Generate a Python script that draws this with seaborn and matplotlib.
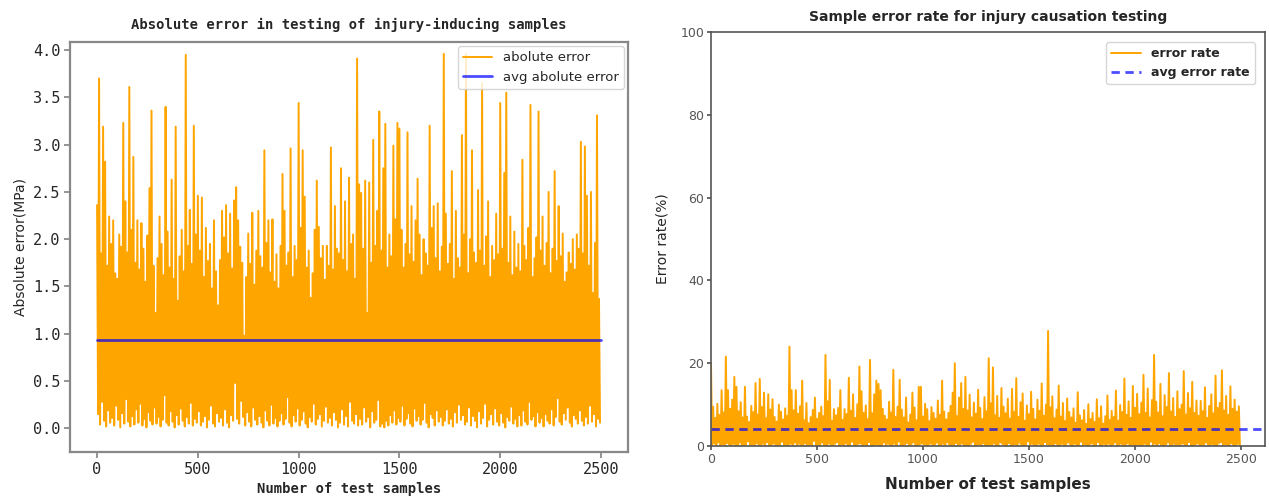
import numpy as np
import pandas as pd
import seaborn as sns
import matplotlib.pyplot as plt

# left panel: absolute error (MPa), one peak and one trough per 10 samples
abs_err_high = [
    2.36, 3.70, 1.85, 3.19, 2.82, 1.72, 2.24, 1.95, 2.20, 1.64,
    1.58, 2.05, 1.92, 3.23, 2.40, 1.86, 3.61, 2.10, 2.87, 1.75,
    2.20, 1.68, 2.17, 1.90, 1.55, 2.04, 2.54, 3.36, 1.72, 1.22,
    1.80, 2.24, 1.95, 1.62, 3.40, 2.08, 1.70, 2.63, 1.58, 3.19,
    1.35, 1.82, 2.10, 1.66, 3.95, 1.93, 2.31, 1.74, 3.20, 2.05,
    2.46, 1.88, 2.44, 1.60, 2.12, 1.77, 1.95, 1.48, 2.20, 1.66,
    1.30, 1.78, 2.30, 2.02, 2.36, 1.85, 2.27, 1.69, 2.41, 2.55,
    2.20, 1.92, 1.75, 0.98, 1.60, 2.06, 1.74, 2.28, 1.52, 1.88,
    2.30, 1.82, 1.70, 2.94, 1.96, 2.20, 1.65, 2.21, 1.55, 1.84,
    1.48, 1.93, 2.69, 2.30, 1.72, 1.86, 2.96, 1.60, 1.93, 1.78,
    3.44, 2.12, 2.94, 2.45, 1.70, 1.88, 1.38, 1.64, 2.10, 2.62,
    2.13, 1.80, 1.93, 1.57, 1.93, 1.72, 2.97, 1.68, 2.35, 1.90,
    1.85, 2.75, 1.78, 2.40, 1.66, 2.65, 1.95, 2.05, 1.58, 3.91,
    2.58, 2.49, 1.90, 2.62, 1.22, 2.60, 1.75, 3.05, 1.93, 2.30,
    3.35, 1.88, 2.75, 3.22, 1.70, 2.05, 1.82, 2.99, 2.21, 3.23,
    3.17, 2.10, 1.70, 1.95, 3.13, 1.84, 2.35, 1.76, 2.20, 2.64,
    2.05, 1.62, 2.00, 1.85, 1.72, 3.20, 2.12, 2.35, 1.80, 2.38,
    1.66, 1.92, 3.96, 2.27, 1.74, 1.95, 2.72, 1.58, 2.30, 1.80,
    1.70, 3.10, 2.05, 3.96, 1.64, 2.00, 2.94, 1.86, 1.75, 2.52,
    1.88, 3.65, 1.72, 2.03, 2.40, 1.60, 1.93, 1.78, 2.27, 1.84,
    3.44, 1.90, 2.70, 3.55, 1.75, 2.24, 1.62, 2.08, 1.70, 1.95,
    1.66, 2.84, 1.93, 1.78, 2.12, 3.42, 1.60, 1.80, 2.02, 3.35,
    1.88, 2.24, 1.72, 1.96, 2.50, 1.64, 1.90, 2.72, 1.77, 2.35,
    1.82, 2.06, 1.55, 1.65, 1.86, 1.74, 2.00, 1.68, 2.05, 1.90,
    3.03, 1.85, 2.98, 2.46, 1.72, 2.50, 1.43, 1.96, 3.31, 1.37,
]
abs_err_low = [
    0.15, 0.04, 0.28, 0.08, 0.02, 0.19, 0.06, 0.11, 0.03, 0.24,
    0.09, 0.01, 0.16, 0.05, 0.31, 0.07, 0.02, 0.13, 0.04, 0.20,
    0.06, 0.26, 0.03, 0.10, 0.01, 0.17, 0.08, 0.04, 0.22, 0.05,
    0.12, 0.02, 0.09, 0.35, 0.06, 0.03, 0.18, 0.07, 0.01, 0.14,
    0.04, 0.21, 0.08, 0.02, 0.12, 0.05, 0.27, 0.03, 0.10, 0.06,
    0.18, 0.03, 0.07, 0.13, 0.01, 0.09, 0.24, 0.05, 0.02, 0.16,
    0.07, 0.11, 0.03, 0.20, 0.06, 0.01, 0.14, 0.08, 0.48, 0.10,
    0.05, 0.29, 0.12, 0.03, 0.17, 0.07, 0.02, 0.22, 0.09, 0.04,
    0.13, 0.06, 0.01, 0.19, 0.08, 0.03, 0.25, 0.05, 0.11, 0.02,
    0.08, 0.16, 0.04, 0.10, 0.33, 0.06, 0.02, 0.14, 0.07, 0.21,
    0.03, 0.09, 0.18, 0.05, 0.01, 0.12, 0.07, 0.26, 0.04, 0.10,
    0.15, 0.02, 0.08, 0.23, 0.06, 0.11, 0.03, 0.17, 0.09, 0.01,
    0.06, 0.20, 0.04, 0.13, 0.02, 0.28, 0.08, 0.05, 0.15, 0.03,
    0.10, 0.04, 0.22, 0.07, 0.12, 0.01, 0.18, 0.06, 0.09, 0.30,
    0.02, 0.05, 0.01, 0.08, 0.03, 0.14, 0.06, 0.19, 0.04, 0.11,
    0.07, 0.24, 0.03, 0.10, 0.16, 0.05, 0.02, 0.21, 0.08, 0.13,
    0.04, 0.09, 0.27, 0.06, 0.01, 0.15, 0.11, 0.03, 0.19, 0.07,
    0.12, 0.03, 0.08, 0.20, 0.05, 0.10, 0.02, 0.17, 0.06, 0.25,
    0.09, 0.14, 0.04, 0.07, 0.22, 0.03, 0.13, 0.08, 0.01, 0.18,
    0.05, 0.11, 0.26, 0.02, 0.09, 0.15, 0.04, 0.21, 0.07, 0.03,
    0.16, 0.06, 0.01, 0.12, 0.08, 0.23, 0.05, 0.10, 0.02, 0.14,
    0.03, 0.19, 0.07, 0.04, 0.28, 0.09, 0.13, 0.02, 0.17, 0.06,
    0.11, 0.02, 0.15, 0.08, 0.05, 0.20, 0.03, 0.12, 0.32, 0.07,
    0.04, 0.16, 0.09, 0.22, 0.06, 0.02, 0.14, 0.10, 0.05, 0.19,
    0.08, 0.03, 0.12, 0.05, 0.24, 0.07, 0.15, 0.02, 0.10, 0.06,
]
avg_abs_err = 0.93

# right panel: error rate (%)
rate_high = [
    20.0, 9.5, 6.8, 10.2, 7.5, 13.5, 8.1, 21.6, 13.5, 9.0,
    11.2, 16.7, 14.3, 8.4, 10.6, 6.9, 14.3, 7.1, 5.8, 9.7,
    8.2, 15.2, 7.6, 16.2, 9.4, 12.9, 6.7, 12.5, 8.8, 11.3,
    7.0, 5.9, 10.0, 8.3, 6.4, 9.1, 7.3, 24.0, 13.5, 8.6,
    13.5, 7.8, 9.6, 15.8, 6.2, 10.4, 5.5, 7.0, 8.7, 11.7,
    6.6, 8.0, 9.5, 7.2, 22.0, 10.8, 16.0, 6.1, 8.9, 7.4,
    9.2, 13.5, 6.3, 8.9, 7.7, 16.5, 8.5, 12.5, 6.8, 10.1,
    19.2, 13.2, 8.0, 9.8, 6.5, 20.8, 7.9, 12.5, 15.8, 15.0,
    13.5, 9.0, 7.3, 6.4, 10.7, 8.1, 18.4, 7.0, 9.5, 16.0,
    8.8, 6.9, 11.7, 5.7, 7.6, 12.9, 9.3, 6.2, 14.3, 14.3,
    7.1, 10.2, 8.9, 6.0, 9.4, 8.0, 6.6, 11.0, 7.5, 15.8,
    8.3, 6.4, 8.0, 9.7, 12.9, 20.0, 7.2, 11.7, 15.2, 9.0,
    16.7, 8.6, 12.4, 6.9, 10.5, 7.8, 13.6, 9.2, 6.5, 11.8,
    8.4, 21.2, 10.3, 19.0, 7.4, 12.1, 6.8, 14.0, 9.5, 7.9,
    11.4, 6.6, 13.8, 8.2, 16.4, 7.0, 10.6, 12.7, 6.1, 9.8,
    7.7, 13.1, 9.0, 6.4, 11.2, 8.5, 15.1, 7.3, 10.0, 27.8,
    9.3, 12.0, 6.7, 8.8, 14.6, 7.1, 10.4, 6.0, 11.5, 8.2,
    6.9, 9.1, 5.6, 13.0, 7.4, 6.2, 8.7, 5.3, 10.1, 6.5,
    8.0, 5.8, 11.3, 6.7, 9.6, 5.4, 7.2, 12.2, 6.3, 8.5,
    7.0, 13.4, 6.1, 9.9, 8.2, 16.3, 7.5, 10.8, 6.8, 14.5,
    9.2, 12.6, 7.7, 10.5, 17.2, 8.0, 13.9, 6.9, 11.1, 22.0,
    10.7, 8.1, 15.0, 7.2, 12.3, 9.4, 17.6, 8.3, 11.6, 7.0,
    13.2, 8.9, 10.0, 18.1, 7.6, 12.8, 9.1, 15.5, 8.0, 11.0,
    7.3, 10.9, 8.4, 14.2, 6.8, 9.7, 12.5, 7.9, 17.0, 9.2,
    10.4, 18.3, 8.6, 12.1, 7.5, 14.4, 9.0, 11.2, 8.3, 9.6,
]
rate_low = [
    0.0, 0.6, 0.2, 0.9, 0.1, 0.4, 0.0, 0.7, 0.3, 0.0,
    0.5, 0.1, 0.0, 0.8, 0.2, 0.0, 0.4, 1.1, 0.1, 0.3,
    0.0, 0.7, 0.2, 0.0, 0.5, 0.1, 0.9, 0.0, 0.3, 0.6,
    0.2, 0.0, 0.4, 1.0, 0.0, 0.3, 0.1, 0.6, 0.0, 0.8,
    0.1, 0.5, 0.0, 0.2, 0.7, 0.0, 0.4, 0.1, 1.2, 0.0,
    0.3, 0.0, 0.8, 0.1, 0.0, 0.6, 0.2, 0.0, 0.5, 0.9,
    0.0, 0.4, 0.1, 0.7, 0.0, 0.2, 1.0, 0.3, 0.0, 0.5,
    0.6, 0.0, 0.3, 0.0, 0.9, 0.1, 0.0, 0.4, 0.2, 0.0,
    0.1, 0.8, 0.0, 0.5, 0.2, 0.0, 0.6, 0.0, 1.1, 0.3,
    0.0, 0.2, 0.7, 0.0, 0.4, 0.9, 0.1, 0.0, 0.3, 0.6,
    0.4, 0.0, 0.1, 0.6, 0.0, 0.3, 0.8, 0.2, 0.0, 0.5,
    0.0, 0.9, 0.3, 0.0, 0.1, 0.7, 0.0, 0.4, 0.6, 0.0,
    0.2, 0.0, 0.5, 1.0, 0.0, 0.2, 0.4, 0.0, 0.7, 0.1,
    0.0, 0.3, 0.0, 0.6, 0.1, 0.0, 0.9, 0.5, 0.0, 0.2,
    0.7, 0.1, 0.0, 0.4, 0.0, 0.8, 0.2, 0.0, 0.3, 1.1,
    0.0, 0.5, 0.2, 0.0, 0.6, 0.1, 0.0, 0.9, 0.4, 0.0,
    0.3, 0.0, 0.7, 0.1, 0.0, 0.5, 0.0, 0.2, 0.8, 0.0,
    0.1, 0.6, 0.0, 0.3, 1.0, 0.0, 0.4, 0.0, 0.2, 0.7,
    0.0, 0.2, 0.9, 0.0, 0.1, 0.5, 0.0, 0.6, 0.0, 0.3,
    0.8, 0.0, 0.3, 0.5, 0.0, 0.1, 0.7, 0.0, 0.4, 0.0,
    0.2, 0.4, 0.0, 0.1, 0.6, 0.0, 0.2, 1.0, 0.0, 0.5,
    0.0, 0.7, 0.1, 0.0, 0.3, 0.8, 0.0, 0.2, 0.5, 0.0,
    0.4, 0.0, 0.6, 0.2, 0.0, 0.9, 0.1, 0.0, 0.3, 0.7,
    0.0, 0.3, 0.0, 0.8, 0.4, 0.0, 0.5, 0.1, 0.0, 0.6,
    0.9, 0.1, 0.4, 0.0, 0.2, 0.7, 0.0, 0.3, 0.5, 0.0,
]
avg_rate = 4.1

# sample index: peak at 10*i, trough at 10*i + 5
idx_high = np.arange(0, 2500, 10)
idx_low = idx_high + 5
samples = np.column_stack([idx_high, idx_low]).ravel()

df_abs = pd.DataFrame({'sample': samples,
                       'err': np.column_stack([abs_err_high, abs_err_low]).ravel()})
df_rate = pd.DataFrame({'sample': samples,
                        'rate': np.column_stack([rate_high, rate_low]).ravel()})

sns.set_theme(style='white')
plt.rcParams['font.family'] = ['DejaVu Sans']

fig = plt.figure(figsize=(12.69, 4.97), dpi=100)
ax1 = fig.add_axes([0.0552, 0.0905, 0.4397, 0.825])
ax2 = fig.add_axes([0.5603, 0.1026, 0.4365, 0.833])

mono = 'DejaVu Sans Mono'

# ---- left
sns.lineplot(data=df_abs, x='sample', y='err', ax=ax1, color='orange',
             lw=1.4, label='abolute error', sort=False)
sns.lineplot(x=[0, 2499], y=[avg_abs_err, avg_abs_err], ax=ax1, color='blue',
             alpha=0.7, lw=2, label='avg abolute error')
ax1.set_xlim(-134, 2634)
ax1.set_ylim(-0.25, 4.085)
ax1.set_yticks(np.arange(0, 4.01, 0.5))
ax1.set_yticklabels([f'{v:.1f}' for v in np.arange(0, 4.01, 0.5)], family=mono, fontsize=11)
ax1.set_xticks([0, 500, 1000, 1500, 2000, 2500])
ax1.set_xticklabels(['0', '500', '1000', '1500', '2000', '2500'], family=mono, fontsize=11)
ax1.set_title('Absolute error in testing of injury-inducing samples',
              family=mono, fontsize=10, fontweight='bold', pad=9)
ax1.set_xlabel('Number of test samples', family=mono, fontsize=10, fontweight='bold')
ax1.set_ylabel('Absolute error(MPa)', fontsize=10)
for s in ax1.spines.values():
    s.set_color('#888888')
    s.set_linewidth(1.6)
ax1.tick_params(axis='both', length=4, color='#888888', direction='out',
                left=True, bottom=True, pad=3)
ax1.legend(loc='upper right', fontsize=9.5, frameon=True, framealpha=0.8,
           handlelength=2.2, borderaxespad=0.3)

# ---- right
sns.lineplot(data=df_rate, x='sample', y='rate', ax=ax2, color='orange',
             lw=1.4, label='error rate', sort=False)
ax2.axhline(avg_rate, color='blue', alpha=0.7, lw=2, ls=(0, (3, 2)),
            label='avg error rate')
ax2.set_xlim(0, 2613)
ax2.set_ylim(0, 100)
ax2.set_xticks([0, 500, 1000, 1500, 2000, 2500])
ax2.set_yticks([0, 20, 40, 60, 80, 100])
ax2.tick_params(axis='both', labelsize=9, labelcolor='#555555', length=3,
                color='#555555', direction='out', left=True, bottom=True, pad=2)
ax2.set_title('Sample error rate for injury causation testing',
              fontsize=10, fontweight='bold', pad=8)
ax2.set_xlabel('Number of test samples', fontsize=11, fontweight='bold', labelpad=8)
ax2.set_ylabel('Error rate(%)', fontsize=10, labelpad=8)
for s in ax2.spines.values():
    s.set_color('#555555')
    s.set_linewidth(1.2)
leg = ax2.legend(loc='upper right', frameon=True, framealpha=0.8,
                 prop={'weight': 'bold', 'size': 9}, handlelength=2.4,
                 borderaxespad=0.8)

fig.savefig('out.png', dpi=100)
